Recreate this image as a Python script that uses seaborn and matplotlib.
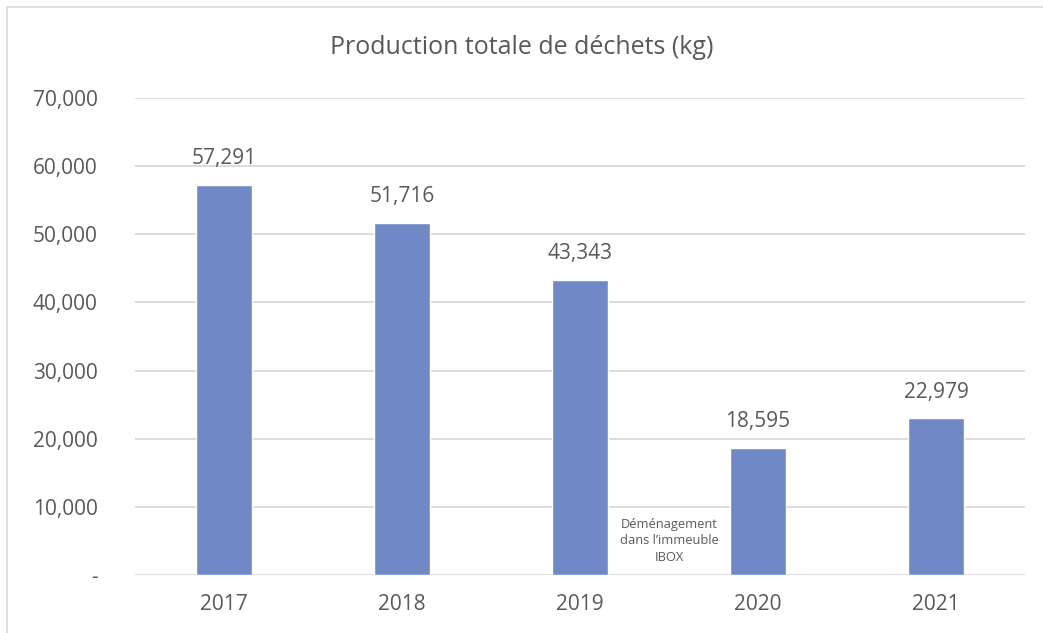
import pandas as pd
import matplotlib.pyplot as plt
import matplotlib.ticker as mticker
from matplotlib.lines import Line2D
import seaborn as sns

# Data
years = ["2017", "2018", "2019", "2020", "2021"]
waste_kg = [57291, 51716, 43343, 18595, 22979]
note = "Déménagement\ndans l’immeuble\nIBOX"

df = pd.DataFrame({"Annee": years, "Dechets": waste_kg})

sns.set_style("white")
plt.rcParams["font.family"] = ["Open Sans", "DejaVu Sans"]

txt = "#595959"
grid = "#D9D9D9"

fig = plt.figure(figsize=(10.43, 6.33), dpi=100)
ax = fig.add_axes([135 / 1043, 1 - 575 / 633, 890 / 1043, 477 / 633])

sns.barplot(data=df, x="Annee", y="Dechets", color="#7089C6", width=0.315,
            saturation=1, ax=ax, zorder=3)

ax.set_ylim(0, 70000)
ax.set_yticks(range(0, 70001, 10000))
ax.yaxis.set_major_formatter(mticker.FuncFormatter(
    lambda v, p: "-" if v == 0 else f"{int(v):,}"))
ax.grid(axis="y", color=grid, linewidth=1.3, zorder=0)
ax.set_axisbelow(True)
for s in ax.spines.values():
    s.set_visible(False)
ax.tick_params(axis="y", length=0, pad=27, labelsize=15, labelcolor=txt)
ax.tick_params(axis="x", length=0, pad=14, labelsize=15, labelcolor=txt)
ax.set_xlabel("")
ax.set_ylabel("")

# value labels
for i, v in enumerate(waste_kg):
    ax.annotate(f"{v:,}", (i, v), xytext=(0, 19), textcoords="offset points",
                ha="center", va="center", fontsize=15, color=txt)

# note between 2019 and 2020
ax.text(2.5, 5000, note, ha="center", va="center", fontsize=9.3,
        color=txt, linespacing=1.35)

fig.text(0.5, 1 - 47 / 633, "Production totale de déchets (kg)", ha="center",
         va="center", fontsize=18, color=txt)

# chart border (top and left visible)
fig.add_artist(Line2D([7 / 1043, 7 / 1043], [0, 1 - 7 / 633], color=grid,
                      linewidth=1.2, transform=fig.transFigure))
fig.add_artist(Line2D([7 / 1043, 1], [1 - 7 / 633, 1 - 7 / 633], color=grid,
                      linewidth=1.2, transform=fig.transFigure))

fig.savefig("out.png", dpi=100)
